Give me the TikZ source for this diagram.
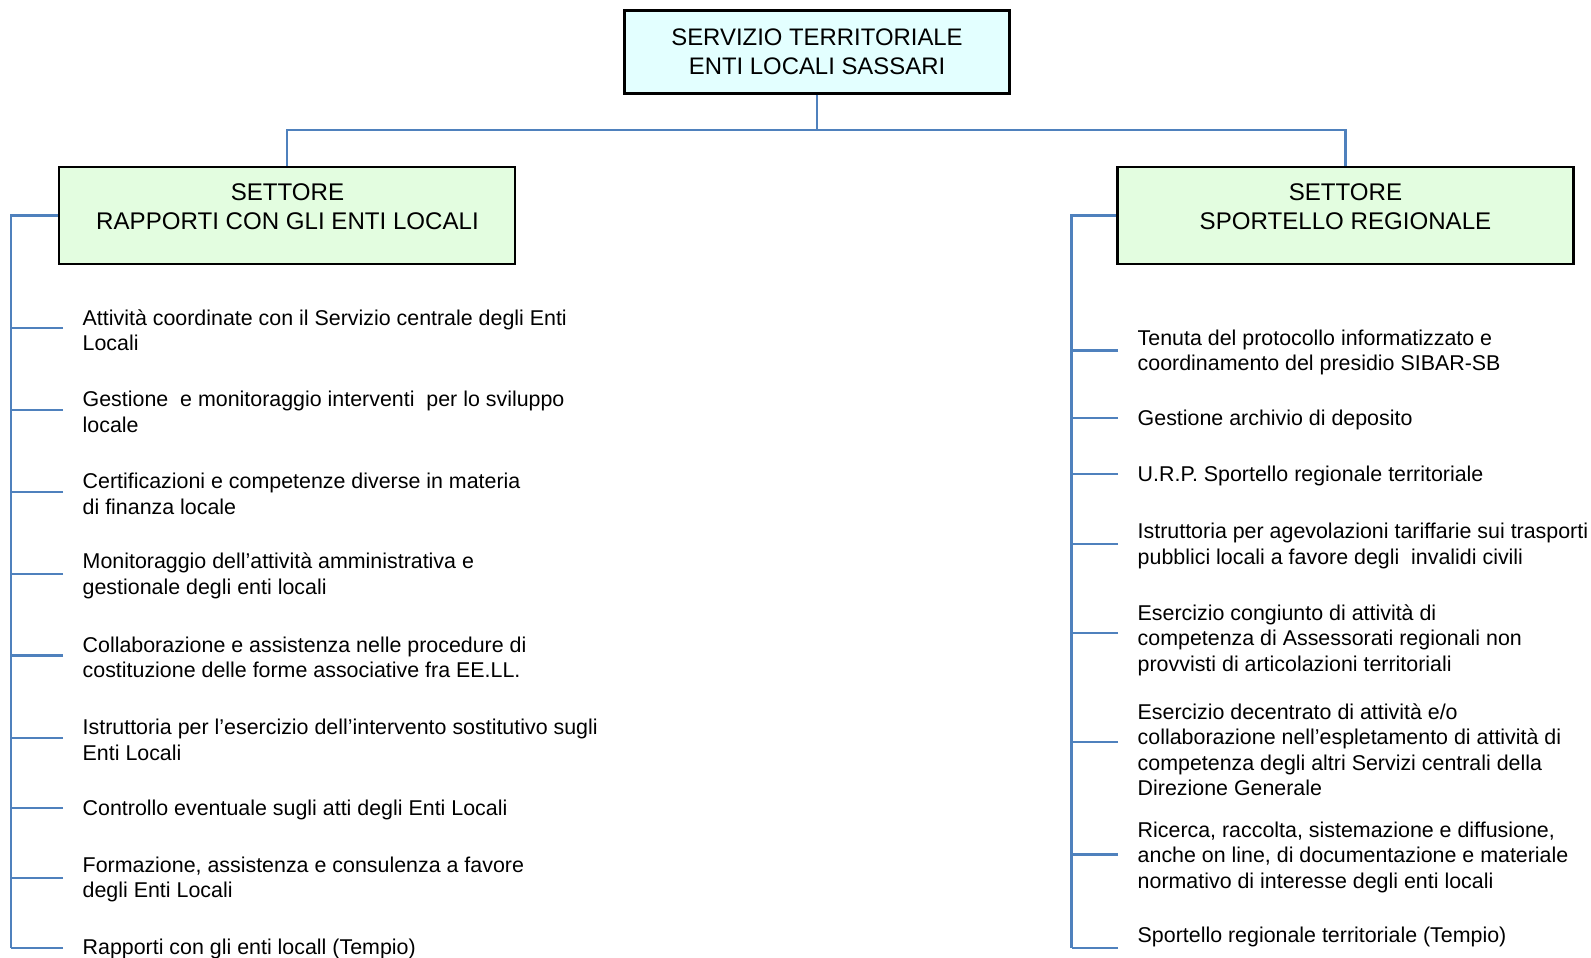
\documentclass[tikz,border=0pt]{standalone}
\usepackage{fontspec}
\setmainfont{Liberation Sans}
\definecolor{linkblue}{HTML}{4F81BD}
\definecolor{topfill}{HTML}{E3FFFF}
\definecolor{secfill}{HTML}{E3FDE0}
\begin{document}
\begin{tikzpicture}[x=1pt,y=-1pt,
  conn/.style={draw=linkblue, line width=2.4pt},
  topbox/.style={draw=black, line width=2.4pt, fill=topfill, minimum width=385pt, minimum height=83pt, inner sep=0pt, align=center, font=\fontsize{23.9}{28.5}\selectfont},
  secbox/.style={draw=black, line width=2.4pt, fill=secfill, minimum width=456pt, minimum height=97pt, inner sep=0pt},
  sectext/.style={align=center, inner sep=0pt, font=\fontsize{24.1}{29}\selectfont},
  itemtext/.style={anchor=west, align=left, inner xsep=19.5pt, inner ysep=0pt, font=\fontsize{21.4}{25.5}\selectfont}
]
\useasboundingbox (0,0) rectangle (1591,958);

% boxes
\node[topbox] (T) at (817,52) {SERVIZIO TERRITORIALE\\ENTI LOCALI SASSARI};
\node[secbox] (L) at (287,215.5) {};
\node[sectext] (Lt) at (287.5,207) {SETTORE\\RAPPORTI CON GLI ENTI LOCALI};
\node[secbox] (R) at (1345.5,215.5) {};
\node[sectext] (Rt) at (1345.5,207) {SETTORE\\SPORTELLO REGIONALE};

% top connectors
\coordinate (hub) at (817,130);
\draw[conn] (T.south) -- (hub);
\draw[conn] (L.north) |- (hub) -| (R.north);

% left items
\node[itemtext] (l1) at (63,330) {Attività coordinate con il Servizio centrale degli Enti\\Locali};
\node[itemtext] (l2) at (63,412) {Gestione~ e monitoraggio interventi~ per lo sviluppo\\locale};
\node[itemtext] (l3) at (63,494) {Certificazioni e competenze diverse in materia\\di finanza locale};
\node[itemtext] (l4) at (63,576) {Monitoraggio dell’attività amministrativa e\\gestionale degli enti locali};
\node[itemtext] (l5) at (63,657.5) {Collaborazione e assistenza nelle procedure di\\costituzione delle forme associative fra EE.LL.};
\node[itemtext] (l6) at (63,739.7) {Istruttoria per l’esercizio dell’intervento sostitutivo sugli\\Enti Locali};
\node[itemtext] (l7) at (63,809.7) {Controllo eventuale sugli atti degli Enti Locali};
\node[itemtext] (l8) at (63,879.7) {Formazione, assistenza e consulenza a favore\\degli Enti Locali};
\node[itemtext] (l9) at (63,948.7) {Rapporti con gli enti locall (Tempio)};

\coordinate (ls) at (11.2,947.7);
\draw[conn] (L.west) -| (ls);
\foreach \n/\s in {l1/2,l2/2,l3/2,l4/2,l5/2,l6/2,l7/2,l8/2,l9/1}
  \draw[conn] ([yshift=\s pt]\n.west) -- ([yshift=\s pt]\n.west -| ls);

% right items
\node[itemtext] (r1) at (1118,352.5) {Tenuta del protocollo informatizzato e\\coordinamento del presidio SIBAR-SB};
\node[itemtext] (r2) at (1118,420) {Gestione archivio di deposito};
\node[itemtext] (r3) at (1118,475.8) {U.R.P. Sportello regionale territoriale};
\node[itemtext] (r4) at (1118,546.2) {Istruttoria per agevolazioni tariffarie sui trasporti\\pubblici locali a favore degli~ invalidi civili};
\node[itemtext] (r5) at (1118,640.2) {Esercizio congiunto di attività di\\competenza di Assessorati regionali non\\provvisti di articolazioni territoriali};
\node[itemtext] (r6) at (1118,749.8) {Esercizio decentrato di attività e/o\\collaborazione nell’espletamento di attività di\\competenza degli altri Servizi centrali della\\Direzione Generale};
\node[itemtext] (r7) at (1118,857.4) {Ricerca, raccolta, sistemazione e diffusione,\\anche on line, di documentazione e materiale\\normativo di interesse degli enti locali};
\node[itemtext] (r8) at (1118,936.5) {Sportello regionale territoriale (Tempio)};

\coordinate (rs) at (1071.5,947.7);
\draw[conn] (R.west) -| (rs);
\foreach \n/\s in {r1/2,r2/2,r3/2,r4/2,r5/7,r6/8,r7/3,r8/-11.2}
  \draw[conn] ([yshift=\s pt]\n.west) -- ([yshift=\s pt]\n.west -| rs);
\end{tikzpicture}
\end{document}
